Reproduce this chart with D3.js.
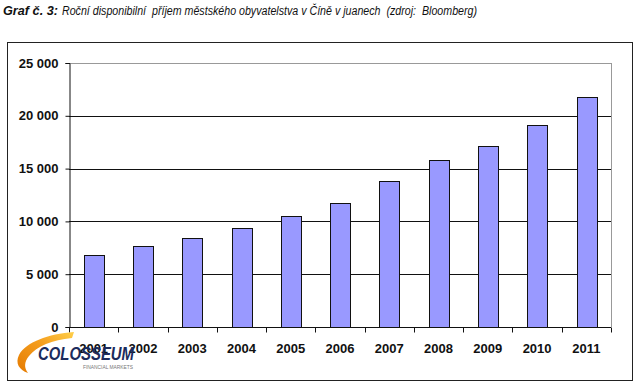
<!DOCTYPE html>
<html>
<head>
<meta charset="utf-8">
<script src="https://cdn.jsdelivr.net/npm/d3@7"></script>
<style>
  body { margin: 0; background: #fff; }
  svg { display: block; font-family: "Liberation Sans", Arial, sans-serif; }
</style>
</head>
<body>
<div class="chart"></div>
<script>
var svgWidth = 640;
var svgHeight = 386;

// data
var years = ["2001", "2002", "2003", "2004", "2005", "2006", "2007", "2008", "2009", "2010", "2011"];
var income = [6860, 7703, 8472, 9422, 10493, 11759, 13786, 15781, 17175, 19109, 21810];
var yTicks = [0, 5000, 10000, 15000, 20000, 25000];

var margin = { top: 63, right: 29, bottom: 59, left: 69 };
var width = svgWidth - margin.left - margin.right;
var height = svgHeight - margin.top - margin.bottom;

var svg = d3.select(".chart")
    .append("svg")
    .attr("width", svgWidth)
    .attr("height", svgHeight);

// title (condensed to match the original width)
var title = svg.append("text")
    .attr("x", 3)
    .attr("y", 15)
    .attr("font-size", 12.5)
    .attr("font-style", "italic")
    .attr("fill", "#111")
    .style("white-space", "pre");
title.append("tspan")
    .attr("font-weight", "bold")
    .attr("textLength", 55)
    .attr("lengthAdjust", "spacingAndGlyphs")
    .text("Graf č. 3:");
title.append("tspan")
    .attr("x", 62)
    .attr("textLength", 415)
    .attr("lengthAdjust", "spacingAndGlyphs")
    .text("Roční disponibilní  příjem městského obyvatelstva v Číně v juanech  (zdroj:  Bloomberg)");

// outer frame
svg.append("rect")
    .attr("x", 7.5)
    .attr("y", 42.5)
    .attr("width", 625)
    .attr("height", 338)
    .attr("fill", "none")
    .attr("stroke", "#222")
    .attr("stroke-width", 1);

var chartGroup = svg.append("g")
    .attr("transform", `translate(${margin.left}, ${margin.top})`);

var xBand = d3.scaleBand()
    .domain(years)
    .range([0, width])
    .paddingInner(0.6)
    .paddingOuter(0.3);

var yLinearScale = d3.scaleLinear()
    .domain([0, 25000])
    .range([height, 0]);

var fmt = function (d) {
    return d3.format(",")(d).replace(/,/g, " ");
};

// gridlines
chartGroup.append("g")
    .selectAll("line")
    .data(yTicks.filter(d => d > 0))
    .enter()
    .append("line")
    .attr("x1", 0)
    .attr("x2", width)
    .attr("y1", d => Math.round(yLinearScale(d)) + 0.5)
    .attr("y2", d => Math.round(yLinearScale(d)) + 0.5)
    .attr("stroke", d => d === 25000 ? "#999" : "#111")
    .attr("stroke-width", 1);

// plot right border
chartGroup.append("line")
    .attr("x1", width + 0.5)
    .attr("x2", width + 0.5)
    .attr("y1", 0)
    .attr("y2", height)
    .attr("stroke", "#999");

// bars
chartGroup.selectAll("rect.bar")
    .data(years)
    .enter()
    .append("rect")
    .attr("class", "bar")
    .attr("x", d => Math.round(xBand(d)) + 0.5)
    .attr("y", (d, i) => Math.round(yLinearScale(income[i])) + 0.5)
    .attr("width", Math.round(xBand.bandwidth()))
    .attr("height", (d, i) => height - Math.round(yLinearScale(income[i])))
    .attr("fill", "#9999ff")
    .attr("stroke", "#111")
    .attr("stroke-width", 1);

// y axis
var leftAxis = d3.axisLeft(yLinearScale)
    .tickValues(yTicks)
    .tickSize(4)
    .tickPadding(7)
    .tickFormat(fmt);

var yAxis = chartGroup.append("g")
    .attr("transform", "translate(0.5, 0)")
    .call(leftAxis);
yAxis.select(".domain").attr("stroke", "#111");
yAxis.selectAll(".tick line").attr("stroke", "#111");
yAxis.selectAll("text")
    .attr("font-size", 13)
    .attr("font-weight", "bold")
    .attr("fill", "#111")
    .attr("font-family", "Liberation Sans, Arial, sans-serif");

// x axis: ticks at category boundaries
var step = width / years.length;
var xAxis = chartGroup.append("g")
    .attr("transform", `translate(0, ${height + 0.5})`);
xAxis.append("line")
    .attr("x1", 0)
    .attr("x2", width)
    .attr("stroke", "#111");
xAxis.selectAll("line.tk")
    .data(d3.range(years.length + 1))
    .enter()
    .append("line")
    .attr("class", "tk")
    .attr("x1", i => Math.round(i * step) + 0.5)
    .attr("x2", i => Math.round(i * step) + 0.5)
    .attr("y1", 0)
    .attr("y2", 5)
    .attr("stroke", "#111");
xAxis.selectAll("text")
    .data(years)
    .enter()
    .append("text")
    .attr("x", d => xBand(d) + xBand.bandwidth() / 2)
    .attr("y", 25)
    .attr("text-anchor", "middle")
    .attr("font-size", 13)
    .attr("font-weight", "bold")
    .attr("fill", "#111")
    .text(d => d);

// logo
var defs = svg.append("defs");
var grad = defs.append("linearGradient")
    .attr("id", "swoosh")
    .attr("x1", "0").attr("y1", "1")
    .attr("x2", "1").attr("y2", "0");
grad.append("stop").attr("offset", "0").attr("stop-color", "#e57a00");
grad.append("stop").attr("offset", "0.6").attr("stop-color", "#f5a020");
grad.append("stop").attr("offset", "1").attr("stop-color", "#ffd04a");

var logo = svg.append("g");
logo.append("path")
    .attr("d", "M74,332 C48,334 26,342 19,355 C15,363 19,370 28,373 C24,368 24,362 29,356 C37,346 52,340 72,338 Z")
    .attr("fill", "url(#swoosh)");
logo.append("text")
    .attr("x", 38)
    .attr("y", 360)
    .attr("font-size", 19)
    .attr("font-weight", "bold")
    .attr("font-style", "italic")
    .attr("fill", "#1b2b5c")
    .attr("textLength", 96)
    .attr("lengthAdjust", "spacingAndGlyphs")
    .text("COLOSSEUM");
logo.append("text")
    .attr("x", 83)
    .attr("y", 368.5)
    .attr("font-size", 4.5)
    .attr("fill", "#777")
    .attr("textLength", 50)
    .attr("lengthAdjust", "spacingAndGlyphs")
    .text("FINANCIAL MARKETS");
</script>
</body>
</html>
